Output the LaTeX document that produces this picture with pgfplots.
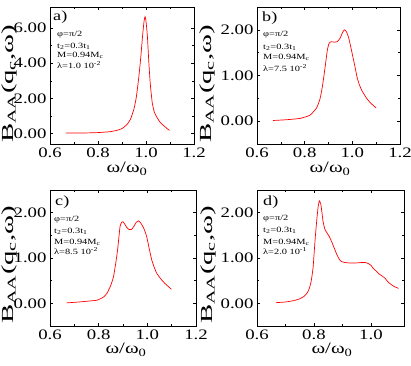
\documentclass[border=0pt]{standalone}
\usepackage{pgfplots}
\pgfplotsset{compat=1.18}
\usepackage{fontspec}
\setmainfont{Liberation Serif}[FakeStretch=1.3]
\newfontfamily\labelfont{Liberation Serif}[FakeStretch=1.7]
\newcommand\fs[1]{\fontsize{#1}{#1}\selectfont}

\pgfplotstableread{
x y
0.665 0.02
0.70 0.025
0.75 0.03
0.80 0.05
0.85 0.10
0.88 0.18
0.90 0.28
0.92 0.50
0.935 0.80
0.95 1.40
0.96 2.10
0.97 3.20
0.978 4.30
0.986 5.60
0.992 6.40
0.996 6.65
1.000 6.40
1.006 5.50
1.012 4.00
1.018 2.80
1.026 1.75
1.035 1.20
1.047 0.88
1.06 0.62
1.075 0.43
1.09 0.25
1.098 0.18
}\dataA

\pgfplotstableread{
x y
0.668 0.015
0.72 0.03
0.78 0.06
0.822 0.13
0.85 0.29
0.865 0.50
0.875 0.78
0.886 1.19
0.895 1.55
0.902 1.70
0.911 1.74
0.925 1.73
0.937 1.74
0.949 1.82
0.958 1.93
0.966 2.00
0.975 1.96
0.985 1.82
0.999 1.49
1.01 1.22
1.02 0.96
1.03 0.79
1.041 0.66
1.06 0.50
1.076 0.40
1.10 0.29
}\dataB

\pgfplotstableread{
x y
0.668 0.01
0.72 0.03
0.793 0.07
0.82 0.14
0.834 0.22
0.85 0.40
0.861 0.59
0.870 0.88
0.878 1.19
0.888 1.70
0.895 1.79
0.900 1.80
0.908 1.74
0.916 1.67
0.925 1.63
0.935 1.63
0.945 1.70
0.955 1.79
0.963 1.82
0.972 1.78
0.985 1.66
0.997 1.48
1.008 1.20
1.018 0.96
1.028 0.80
1.038 0.67
1.055 0.54
1.072 0.44
1.099 0.31
}\dataC

\pgfplotstableread{
x y
0.667 0.015
0.70 0.03
0.729 0.06
0.75 0.10
0.764 0.15
0.775 0.22
0.782 0.30
0.790 0.48
0.797 0.80
0.804 1.41
0.810 1.85
0.815 2.15
0.819 2.26
0.824 2.19
0.828 2.00
0.832 1.80
0.838 1.64
0.846 1.55
0.854 1.47
0.862 1.36
0.871 1.22
0.880 1.08
0.889 0.97
0.897 0.92
0.910 0.90
0.925 0.89
0.945 0.89
0.967 0.90
0.980 0.90
0.990 0.88
1.000 0.84
1.007 0.78
1.020 0.70
1.030 0.64
1.040 0.60
1.050 0.55
1.060 0.47
1.074 0.40
1.085 0.36
1.097 0.33
}\dataD

\pgfplotsset{
  panel/.style={
    scale only axis,
    anchor=south west,
    xmin=0.6, xmax=1.2,
    xtick={0.6,0.8,1.0,1.2},
    minor x tick num=1,
    minor y tick num=1,
    tick align=inside,
    major tick length=3bp, minor tick length=2bp,
    every tick/.style={black, line width=0.4pt},
    axis line style={line width=0.5pt},
    tick label style={font=\fs{14.5}},
    /pgf/number format/assume math mode=true,
    x tick label style={/pgf/number format/.cd, fixed, fixed zerofill, precision=1, /tikz/.cd},
    y tick label style={/pgf/number format/.cd, fixed, fixed zerofill, precision=2, /tikz/.cd},
    clip=false,
  },
  curve/.style={red, line width=0.7pt, smooth, tension=0.3, no marks},
}

\begin{document}
\begin{tikzpicture}
\useasboundingbox (0,0) rectangle (411bp,366bp);

% a)
\begin{axis}[panel, at={(50bp,222bp)}, width=144bp, height=137bp,
  ymin=-0.6, ymax=7.2, ytick={0,2,4,6}]
\addplot[curve] table[x=x,y=y] {\dataA};
\end{axis}

% b)
\begin{axis}[panel, at={(257bp,222bp)}, width=143bp, height=137bp,
  ymin=-0.5, ymax=2.5, ytick={0,1,2}]
\addplot[curve] table[x=x,y=y] {\dataB};
\end{axis}

% c)
\begin{axis}[panel, at={(50bp,40bp)}, width=146bp, height=136bp,
  ymin=-0.5, ymax=2.5, ytick={0,1,2}]
\addplot[curve] table[x=x,y=y] {\dataC};
\end{axis}

% d)
\begin{axis}[panel, at={(257bp,40bp)}, width=147bp, height=136bp,
  xmax=1.116, xtick={0.6,0.8,1.0},
  ymin=-0.5, ymax=2.5, ytick={0,1,2}]
\addplot[curve] table[x=x,y=y] {\dataD};
\end{axis}

% axis labels
\foreach \xx/\yy in {9/223, 207/223, 9/42, 208/42}{
  \node[rotate=90, anchor=west, inner sep=0pt, font=\labelfont\fs{17}] at (\xx bp,\yy bp)
    {B\textsubscript{AA}(q\textsubscript{c},ω)};
}
\foreach \xx/\yy in {127/197, 330/197, 126/16, 332/16}{
  \node[inner sep=0pt, font=\fs{16}] at (\xx bp,\yy bp) {ω/ω\textsubscript{0}};
}

% panel letters
\node[anchor=west, inner sep=0pt, font=\fs{14}] at (53bp,349bp) {a)};
\node[anchor=west, inner sep=0pt, font=\fs{14}] at (262bp,348bp) {b)};
\node[anchor=west, inner sep=0pt, font=\fs{14}] at (55bp,164bp) {c)};
\node[anchor=west, inner sep=0pt, font=\fs{14}] at (263bp,164bp) {d)};

% annotations
\newcommand\annot[6]{%
  \node[anchor=west, inner sep=0pt, font=\fs{8}] at (#1bp,#2bp) {φ=π/2};
  \node[anchor=west, inner sep=0pt, font=\fs{8}] at (#1bp,#3bp) {t\textsubscript{2}=0.3t\textsubscript{1}};
  \node[anchor=west, inner sep=0pt, font=\fs{8}] at (#1bp,#4bp) {M=0.94M\textsubscript{c}};
  \node[anchor=west, inner sep=0pt, font=\fs{8}] at (#1bp,#5bp) {λ=#6};
}
\annot{57}{331}{320}{311}{301}{1.0 10\textsuperscript{-2}}
\annot{263}{331}{319}{309}{298}{7.5 10\textsuperscript{-2}}
\annot{54}{146}{135}{124}{115}{8.5 10\textsuperscript{-2}}
\annot{263}{147}{136}{124}{115}{2.0 10\textsuperscript{-1}}
\end{tikzpicture}
\end{document}
